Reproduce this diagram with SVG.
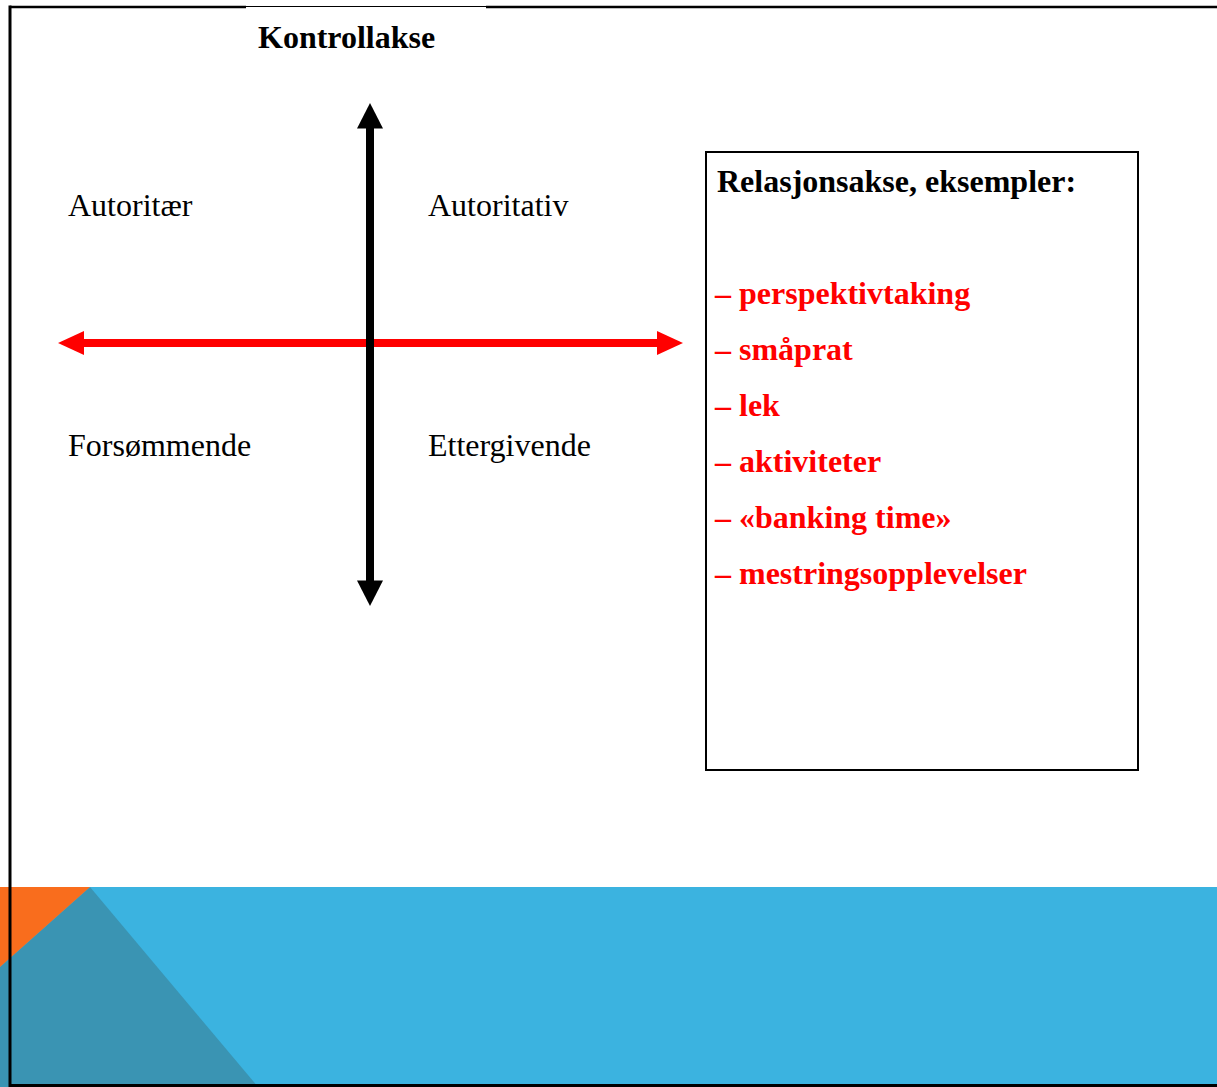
<svg xmlns="http://www.w3.org/2000/svg" width="1217" height="1087" viewBox="0 0 1217 1087">
<style>
.t{font-family:"Liberation Serif","Times New Roman",serif;font-size:32px;fill:#000}
.b{font-weight:bold}
.r{fill:#FF0000;font-weight:bold}
</style>
<rect x="0" y="0" width="1217" height="1087" fill="#FFFFFF"/>
<g id="background-band">
<rect x="0" y="887" width="1217" height="200" fill="#3BB3E0"/>
<polygon points="90,887 258,1087 0,1087 0,967" fill="#3A94B3"/>
<polygon points="0,887 90,887 0,967" fill="#F96D1D"/>
</g>
<g id="frame" stroke="#000" fill="none">
<line x1="10" y1="7" x2="246" y2="7" stroke-width="2.5"/>
<line x1="246" y1="6.5" x2="486" y2="6.5" stroke-width="1"/>
<line x1="486" y1="7" x2="1217" y2="7" stroke-width="2.5"/>
<line x1="10" y1="5.5" x2="10" y2="1087" stroke-width="3"/>
<line x1="10" y1="1085.5" x2="1217" y2="1085.5" stroke-width="3"/>
</g>
<g id="connectors">
<line x1="83" y1="343" x2="660" y2="343" stroke="#FF0000" stroke-width="8"/>
<polygon points="58,343 84,331 84,355" fill="#FF0000"/>
<polygon points="683,343 657,331 657,355" fill="#FF0000"/>
<line x1="370" y1="126" x2="370" y2="583" stroke="#000" stroke-width="8"/>
<polygon points="370,103 357,128.5 383,128.5" fill="#000"/>
<polygon points="370,606 357,580.5 383,580.5" fill="#000"/>
</g>
<g id="title"><text class="t b" x="258" y="48">Kontrollakse</text></g>
<g id="q-autoritaer"><text class="t" x="68" y="216">Autoritær</text></g>
<g id="q-autoritativ"><text class="t" x="428" y="216">Autoritativ</text></g>
<g id="q-forsommende"><text class="t" x="68" y="456">Forsømmende</text></g>
<g id="q-ettergivende"><text class="t" x="428" y="456">Ettergivende</text></g>
<g id="relasjon-box">
<rect x="706" y="152" width="432" height="618" fill="none" stroke="#000" stroke-width="2"/>
<text class="t b" x="717" y="192">Relasjonsakse, eksempler:</text>
<text class="t r" x="715" y="304">– perspektivtaking</text>
<text class="t r" x="715" y="360">– småprat</text>
<text class="t r" x="715" y="416">– lek</text>
<text class="t r" x="715" y="472">– aktiviteter</text>
<text class="t r" x="715" y="528">– «banking time»</text>
<text class="t r" x="715" y="584">– mestringsopplevelser</text>
</g>
</svg>
